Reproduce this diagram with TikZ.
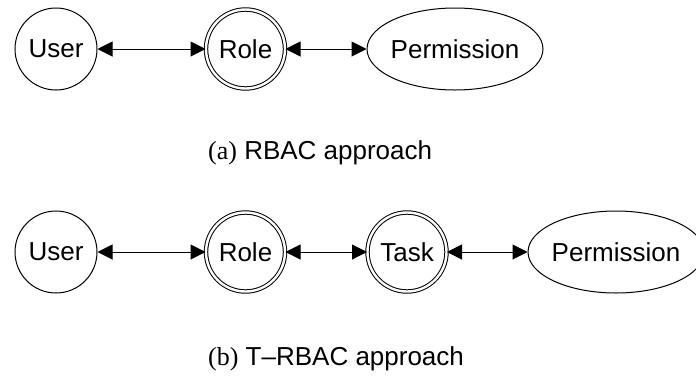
\documentclass[tikz,border=0pt]{standalone}
\usepackage{fontspec}
\setmainfont{Liberation Sans}
\newfontfamily\capserif{Liberation Serif}
\usetikzlibrary{arrows.meta,shapes.geometric}

\tikzset{
  entity/.style={circle, draw, line width=1pt, minimum size=82pt, inner sep=0pt,
                 font=\fontsize{26}{30}\selectfont},
  keyentity/.style={entity, double, double distance=2.4pt, minimum size=79pt},
  permbox/.style={ellipse, draw, line width=1pt, minimum width=176pt,
                  minimum height=82pt, inner sep=0pt,
                  label={[font=\fontsize{26}{30}\selectfont]center:Permission}},
  link/.style={line width=1pt, {Triangle[length=15pt,width=15pt]}-{Triangle[length=15pt,width=15pt]}},
  caption/.style={anchor=base west, inner sep=0pt, font=\fontsize{26}{30}\selectfont}
}

\begin{document}
\begin{tikzpicture}[x=1pt, y=-1pt]
  \useasboundingbox (0,0) rectangle (696,376);
  \clip (0,0) rectangle (696,376);

  % (a) RBAC
  \node[entity]    (ua) at (56,49)    {User};
  \node[keyentity] (ra) at (245.5,49) {Role};
  \node[permbox]   (pa) at (455,49)   {};
  \draw[link] (ua) -- (ra);
  \draw[link] (ra) -- (pa);
  \node[caption] (capa) at (208,159) {{\capserif(a)} RBAC approach};

  % (b) T-RBAC
  \node[entity]    (ub) at (56,252)    {User};
  \node[keyentity] (rb) at (245.5,252) {Role};
  \node[keyentity] (tb) at (407,252)   {Task};
  \node[permbox]   (pb) at (616,252)   {};
  \draw[link] (ub) -- (rb);
  \draw[link] (rb) -- (tb);
  \draw[link] (tb) -- (pb);
  \node[caption] (capb) at (208,365) {{\capserif(b)} T\textendash RBAC approach};
\end{tikzpicture}
\end{document}
